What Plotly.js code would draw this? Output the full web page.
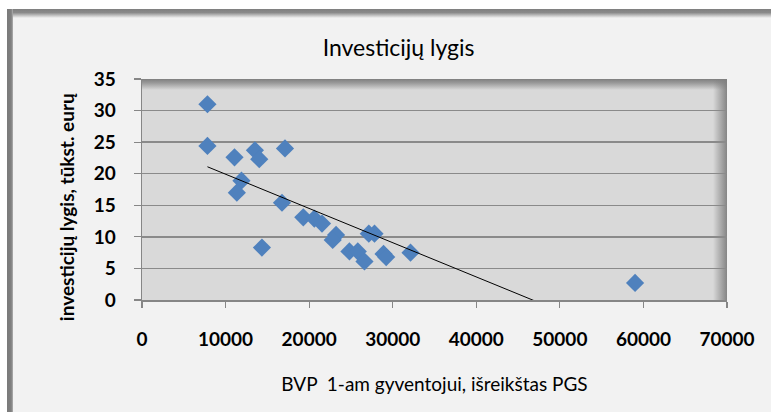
<!DOCTYPE html>
<html>
<head>
<meta charset="utf-8">
<script src="https://cdn.plot.ly/plotly-3.0.1.min.js"></script>
<style>
  html, body { margin: 0; padding: 0; background: #ffffff; }
  #wrap { position: relative; width: 771px; height: 412px; overflow: hidden; background: #ffffff; }
  #frame { position: absolute; left: 7px; top: 9px; right: 0; bottom: 0; background: #f2f2f2; }
  #frameTop { position: absolute; left: 7px; top: 9px; right: 0; height: 9px;
    background: linear-gradient(to bottom, #7f7f7f 0%, #8a8a8a 40%, #f2f2f2 100%); }
  #frameLeft { position: absolute; left: 7px; top: 9px; width: 6px; bottom: 0;
    background: linear-gradient(to right, #7a7a7a 0%, #808080 70%, #b0b0b0 100%); }
  #plotbg { position: absolute; left: 142px; top: 79px; width: 585px; height: 221px;
    background:
      linear-gradient(to left, rgba(128,128,128,0.95) 0px, rgba(217,217,217,0) 14px),
      linear-gradient(to bottom, #7f7f7f 0px, #9a9a9a 4px, #d9d9d9 11px);
    background-color: #d9d9d9; }
  #chart { position: absolute; left: 0; top: 0; width: 771px; height: 412px; }
</style>
</head>
<body>
<div id="wrap">
  <div id="frame"></div>
  <div id="frameTop"></div>
  <div id="frameLeft"></div>
  <div id="plotbg"></div>
  <div id="chart"></div>
</div>
<script>
// GDP per capita (PPS) and investment level
const gdpPerCapita = [7830, 7830, 11070, 13510, 14030, 17110, 11900, 11350, 14350, 16750, 19300, 20620,
                      21540, 23220, 22820, 24820, 25820, 26620, 27140, 27820, 28900, 29220, 32130, 59000];
const investment   = [31.0, 24.4, 22.6, 23.7, 22.3, 24.0, 18.9, 17.0, 8.3, 15.4, 13.1, 12.9,
                      12.1, 10.3, 9.5, 7.7, 7.7, 6.1, 10.5, 10.5, 7.3, 6.8, 7.5, 2.7];
// linear trendline (endpoints over the data range)
const trendX = [7830, 59000];
const trendY = [21.1, -6.65];

const xTickVals = [0, 10000, 20000, 30000, 40000, 50000, 60000, 70000];
const yTickVals = [0, 5, 10, 15, 20, 25, 30, 35];

const titleText = 'Investicijų lygis';
const xTitleText = 'BVP  1-am gyventojui, išreikštas PGS';
const yTitleText = 'investicijų lygis, tūkst. eurų';

const FONT = 'Lato, "Open Sans", sans-serif';

const traces = [
  {
    type: 'scatter', mode: 'markers',
    x: gdpPerCapita, y: investment,
    marker: { symbol: 'diamond', size: 14, color: '#4f81bd', line: { width: 0 } },
    hoverinfo: 'skip', showlegend: false, cliponaxis: false
  },
  {
    type: 'scatter', mode: 'lines',
    x: trendX, y: trendY,
    line: { color: '#000000', width: 1 },
    hoverinfo: 'skip', showlegend: false
  }
];

const layout = {
  width: 771, height: 412,
  margin: { l: 142, r: 44, t: 79, b: 112, pad: 0 },
  paper_bgcolor: 'rgba(0,0,0,0)',
  plot_bgcolor: 'rgba(0,0,0,0)',
  showlegend: false,
  title: {
    text: titleText,
    font: { family: FONT, size: 23, color: '#000000' },
    x: 0.517, xanchor: 'center', y: 0.883, yanchor: 'middle'
  },
  annotations: [
    {
      text: yTitleText, textangle: -90,
      xref: 'paper', yref: 'paper', x: -0.13, y: 0.42,
      xanchor: 'center', yanchor: 'middle', showarrow: false,
      font: { family: FONT, size: 19, color: '#000000', weight: 'bold' }
    }
  ],
  xaxis: {
    range: [0, 70000], tickvals: xTickVals, ticktext: xTickVals.map(String),
    showgrid: false, zeroline: false,
    showline: true, linecolor: '#868686', linewidth: 1.5,
    ticks: 'outside', ticklen: 6, tickcolor: '#868686', tickwidth: 1.2,
    ticklabelstandoff: 16,
    tickfont: { family: FONT, size: 19, color: '#000000', weight: 'bold' },
    title: { text: xTitleText, font: { family: FONT, size: 19, color: '#000000' }, standoff: 28 },
    fixedrange: true
  },
  yaxis: {
    range: [0, 35], tickvals: yTickVals, ticktext: yTickVals.map(String),
    showgrid: true, gridcolor: '#8a8a8a', gridwidth: 1.3, zeroline: false,
    showline: true, linecolor: '#868686', linewidth: 1.5,
    ticks: 'outside', ticklen: 7, tickcolor: '#868686', tickwidth: 1.2,
    ticklabelstandoff: 14,
    tickfont: { family: FONT, size: 19, color: '#000000', weight: 'bold' },
    fixedrange: true
  }
};

Plotly.newPlot('chart', traces, layout, { displayModeBar: false, staticPlot: true });
</script>
</body>
</html>
